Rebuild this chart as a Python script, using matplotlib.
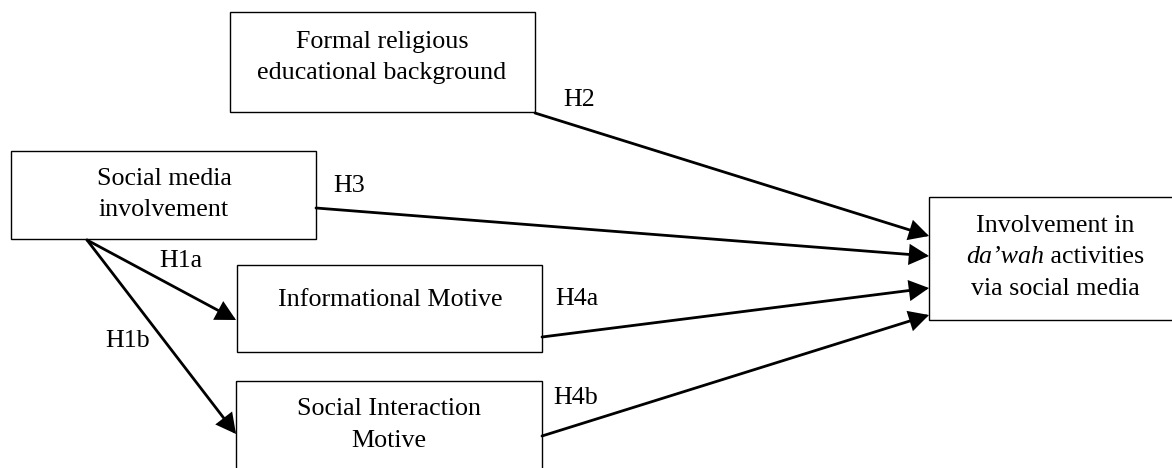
import matplotlib.pyplot as plt
from matplotlib.patches import Rectangle, FancyArrowPatch

# boxes: left, top, right, bottom (pixel space, y grows downwards)
box_names = ["formal", "social", "info", "interact", "dawah"]
box_edges = [
    (230, 12, 535, 112),
    (11, 151, 316, 239),
    (237, 265, 542, 352),
    (236, 381, 542, 490),
    (929, 197, 1190, 320),
]

# text lines inside boxes: (x, y, text)
box_texts = [
    (382, 42, "Formal religious"),
    (382, 73, "educational background"),
    (164, 179, "Social media"),
    (164, 210, "involvement"),
    (390, 300, "Informational Motive"),
    (389, 409, "Social Interaction"),
    (389, 441, "Motive"),
    (1055, 226, "Involvement in"),
    (1055, 289, "via social media"),
]

# paths: start -> end
path_start = [(535, 113), (316, 208), (542, 337), (542, 436), (87, 240), (87, 240)]
path_end = [(929, 236), (929, 256), (929, 288), (929, 315), (236, 320), (236, 434)]
path_labels = ["H2", "H3", "H4a", "H4b", "H1a", "H1b"]
label_pos = [(579, 100), (349, 186), (577, 299), (576, 398), (181, 261), (128, 341)]

W, H = 1172, 468
font = "Liberation Serif"
fs = 18.7

fig = plt.figure(figsize=(W / 100, H / 100), dpi=100)
ax = fig.add_axes([0, 0, 1, 1])
ax.set_xlim(0, W)
ax.set_ylim(H, 0)
ax.axis("off")

for (x0, y0, x1, y1) in box_edges:
    ax.add_patch(Rectangle((x0, y0), x1 - x0, y1 - y0, fill=False,
                           edgecolor="black", linewidth=1.0))

for x, y, t in box_texts:
    ax.text(x, y, t, ha="center", va="center", fontsize=fs, family=font)

# middle line of the outcome box: italic da'wah + regular rest
fig.canvas.draw()
r = fig.canvas.get_renderer()
t1 = ax.text(0, 257, "da\u2019wah", ha="left", va="center", fontsize=fs,
             family=font, style="italic")
t2 = ax.text(0, 257, " activities", ha="left", va="center", fontsize=fs,
             family=font)
w1 = t1.get_window_extent(r).width
w2 = t2.get_window_extent(r).width
start = 1055 - (w1 + w2) / 2
t1.set_x(start)
t2.set_x(start + w1)

for (p0, p1, lab, lp) in zip(path_start, path_end, path_labels, label_pos):
    ax.add_patch(FancyArrowPatch(p0, p1, arrowstyle="-|>,head_length=0.95,head_width=0.5",
                                 mutation_scale=12, linewidth=2.0, color="black",
                                 shrinkA=0, shrinkB=0, joinstyle="miter"))
    ax.text(lp[0], lp[1], lab, ha="center", va="center", fontsize=fs, family=font)

fig.savefig("out.png", dpi=100)
